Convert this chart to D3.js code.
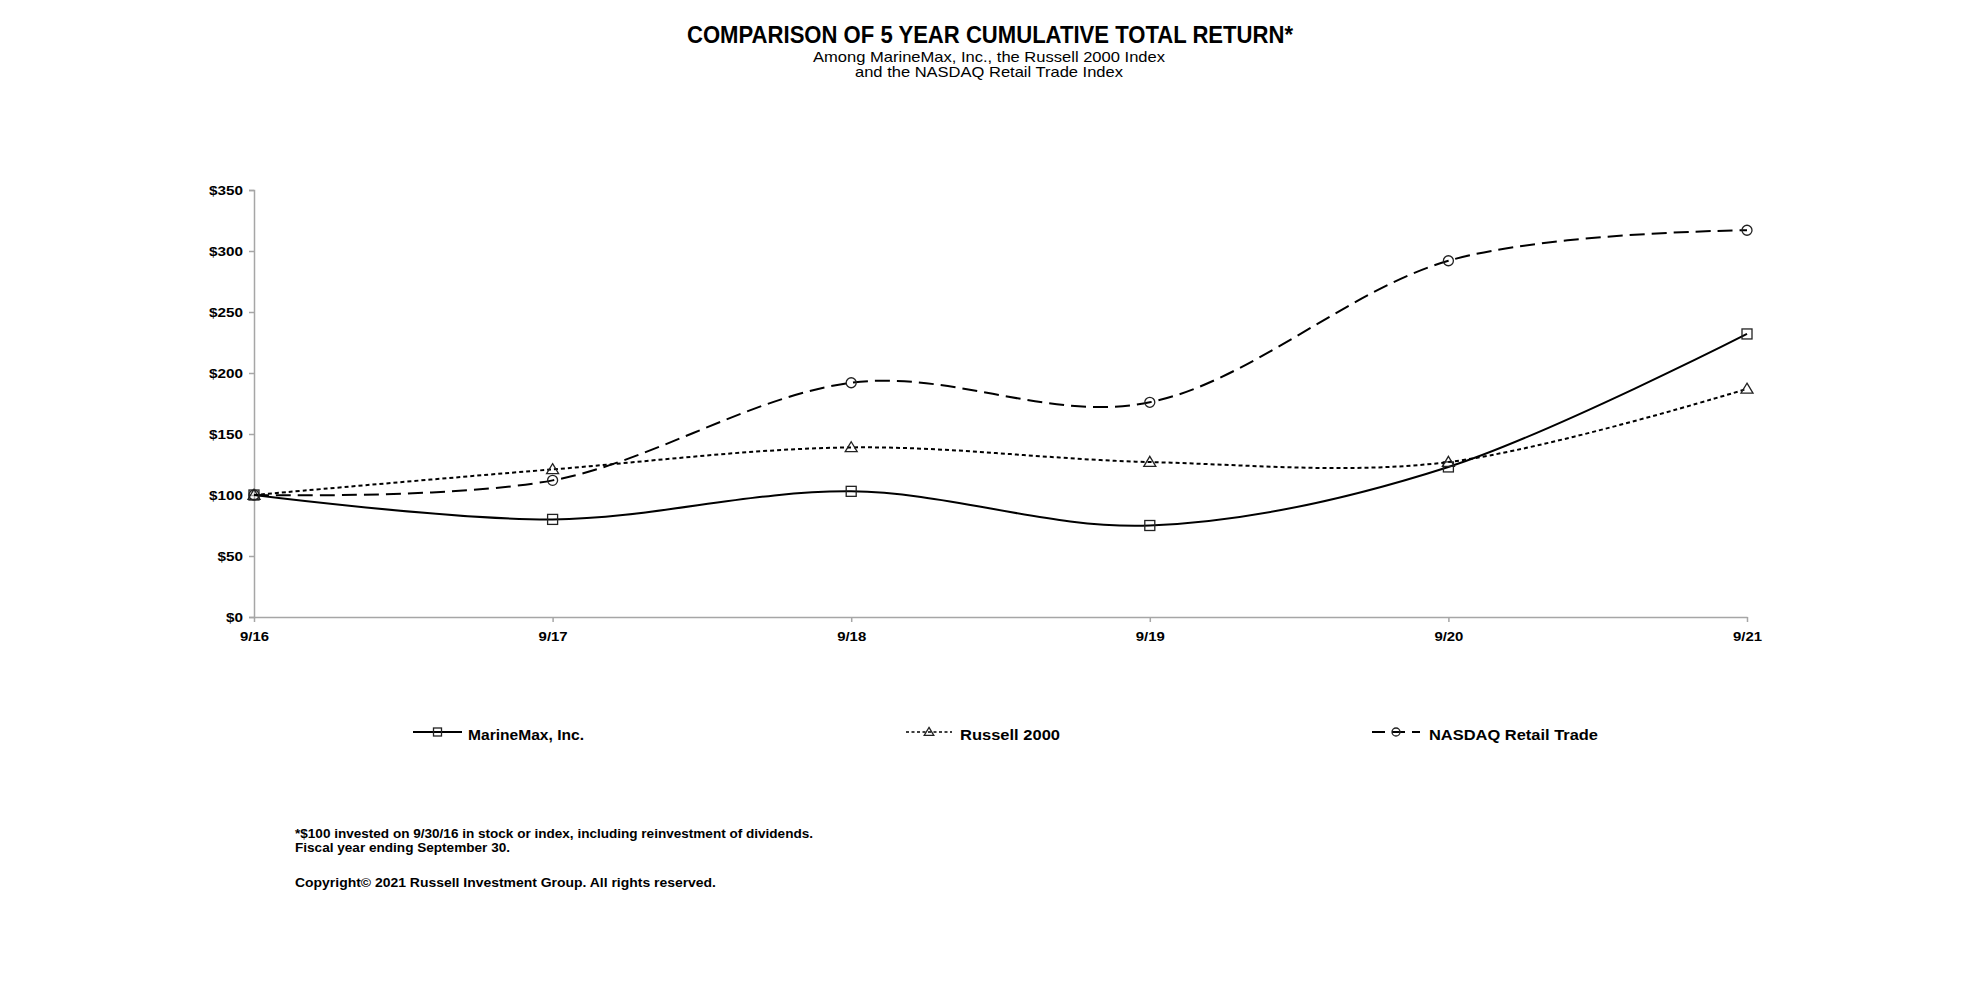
<!DOCTYPE html>
<html>
<head>
<meta charset="utf-8">
<script src="https://cdn.jsdelivr.net/npm/d3@7"></script>
<style>
  html, body { margin: 0; padding: 0; background: #fff; }
  svg { display: block; font-family: "Liberation Sans", Arial, sans-serif; }
</style>
</head>
<body>
<svg id="chart" width="1978" height="991"></svg>
<script>
// ---- data ----
const categories = ["9/16", "9/17", "9/18", "9/19", "9/20", "9/21"];
const marineMax = [100, 80, 103, 75, 123, 232];
const russell2000 = [100, 121, 139, 127, 127, 187];
const nasdaqRetail = [100, 112, 192, 176, 292, 317];
const yTicks = [0, 50, 100, 150, 200, 250, 300, 350];
const seriesNames = ["MarineMax, Inc.", "Russell 2000", "NASDAQ Retail Trade"];
const titleText = "COMPARISON OF 5 YEAR CUMULATIVE TOTAL RETURN*";
const subtitleLines = ["Among MarineMax, Inc., the Russell 2000 Index", "and the NASDAQ Retail Trade Index"];
const footnotes = [
  "*$100 invested on 9/30/16 in stock or index, including reinvestment of dividends.",
  "Fiscal year ending September 30.",
  "Copyright\u00A9 2021 Russell Investment Group. All rights reserved."
];

const svg = d3.select("#chart");
const axisColor = "#a6a6a6";

const x = d3.scalePoint().domain(categories).range([254, 1747]);
const y = d3.scaleLinear().domain([0, 350]).range([617, 190]);

// ---- titles ----
svg.append("text").attr("x", 990).attr("y", 43).attr("text-anchor", "middle")
  .attr("font-size", 24).attr("font-weight", "bold")
  .attr("textLength", 606).attr("lengthAdjust", "spacingAndGlyphs").text(titleText);
const subW = [352, 268];
subtitleLines.forEach((t, i) => {
  svg.append("text").attr("x", 989).attr("y", 62 + i * 15).attr("text-anchor", "middle")
    .attr("font-size", 14.5).attr("font-weight", "normal")
    .attr("textLength", subW[i]).attr("lengthAdjust", "spacingAndGlyphs").text(t);
});

// ---- axes ----
const yAxis = d3.axisLeft(y).tickValues(yTicks).tickSize(5).tickFormat(d => "$" + d);
const gy = svg.append("g").attr("transform", "translate(254,0)").call(yAxis);
gy.select(".domain").attr("stroke", axisColor).attr("stroke-width", 1.5);
gy.selectAll(".tick line").attr("stroke", axisColor).attr("stroke-width", 1.5);
gy.selectAll(".tick text").attr("x", -11).attr("font-size", 13.5).attr("font-weight", "bold")
  .attr("fill", "#000").attr("font-family", "Liberation Sans, Arial, sans-serif")
  .each(function(d) {
    const s = "$" + d;
    d3.select(this).attr("textLength", s.length * 8.5).attr("lengthAdjust", "spacingAndGlyphs");
  });

const xAxis = d3.axisBottom(x).tickSize(5).tickSizeOuter(0);
const gx = svg.append("g").attr("transform", "translate(0,617)").call(xAxis);
gx.select(".domain").attr("stroke", axisColor).attr("stroke-width", 1.5);
gx.selectAll(".tick line").attr("stroke", axisColor).attr("stroke-width", 1.5);
gx.selectAll(".tick text").attr("y", 14).attr("dy", "0.71em").attr("font-size", 13.5)
  .attr("font-weight", "bold").attr("fill", "#000")
  .attr("font-family", "Liberation Sans, Arial, sans-serif")
  .attr("textLength", 29).attr("lengthAdjust", "spacingAndGlyphs");

// ---- series ----
const series = [
  { name: seriesNames[0], values: marineMax, dash: null, marker: "square" },
  { name: seriesNames[1], values: russell2000, dash: "4,3", marker: "triangle" },
  { name: seriesNames[2], values: nasdaqRetail, dash: "15,7", marker: "circle" }
];

const line = d3.line()
  .x((d, i) => x(categories[i]))
  .y(d => y(d))
  .curve(d3.curveCardinal.tension(0));

function drawMarker(g, type, cx, cy, s) {
  if (type === "square") {
    g.append("rect").attr("x", cx - s / 2).attr("y", cy - s / 2).attr("width", s).attr("height", s)
      .attr("fill", "none").attr("stroke", "#222").attr("stroke-width", 1.3);
  } else if (type === "triangle") {
    const h = s * 0.95;
    g.append("path")
      .attr("d", `M${cx},${cy - h * 0.6}L${cx + s * 0.6},${cy + h * 0.45}L${cx - s * 0.6},${cy + h * 0.45}Z`)
      .attr("fill", "none").attr("stroke", "#222").attr("stroke-width", 1.3);
  } else {
    g.append("circle").attr("cx", cx).attr("cy", cy).attr("r", s / 2)
      .attr("fill", "none").attr("stroke", "#222").attr("stroke-width", 1.3);
  }
}

series.forEach(s => {
  const g = svg.append("g");
  g.append("path").datum(s.values).attr("d", line)
    .attr("fill", "none").attr("stroke", "#000").attr("stroke-width", 2)
    .attr("stroke-dasharray", s.dash);
  s.values.forEach((v, i) => drawMarker(g, s.marker, x(categories[i]), y(v), 10));
});

// ---- legend ----
const legendY = 732;
const legendItems = [
  { lx0: 413, lx1: 462, mx: 437.5, tx: 468, tw: 116, dash: null, lw: 2 },
  { lx0: 906, lx1: 952, mx: 929, tx: 960, tw: 100, dash: "3,2.5", lw: 1.5 },
  { lx0: 1372, lx1: 1420, mx: 1396, tx: 1429, tw: 169, dash: "13,7", lw: 2 }
];
series.forEach((s, i) => {
  const li = legendItems[i];
  const g = svg.append("g");
  g.append("line").attr("x1", li.lx0).attr("x2", li.lx1).attr("y1", legendY).attr("y2", legendY)
    .attr("stroke", "#000").attr("stroke-width", li.lw).attr("stroke-dasharray", li.dash);
  drawMarker(g, s.marker, li.mx, legendY, 8);
  g.append("text").attr("x", li.tx).attr("y", legendY + 8).attr("font-size", 15)
    .attr("font-weight", "bold").attr("textLength", li.tw).attr("lengthAdjust", "spacingAndGlyphs")
    .text(s.name);
});

// ---- footnotes ----
const footY = [838, 851.5, 886.5];
const footW = [518, 215, 421];
footnotes.forEach((t, i) => {
  svg.append("text").attr("x", 295).attr("y", footY[i]).attr("font-size", 12.5)
    .attr("font-weight", "bold").attr("textLength", footW[i]).attr("lengthAdjust", "spacingAndGlyphs")
    .text(t);
});
</script>
</body>
</html>
